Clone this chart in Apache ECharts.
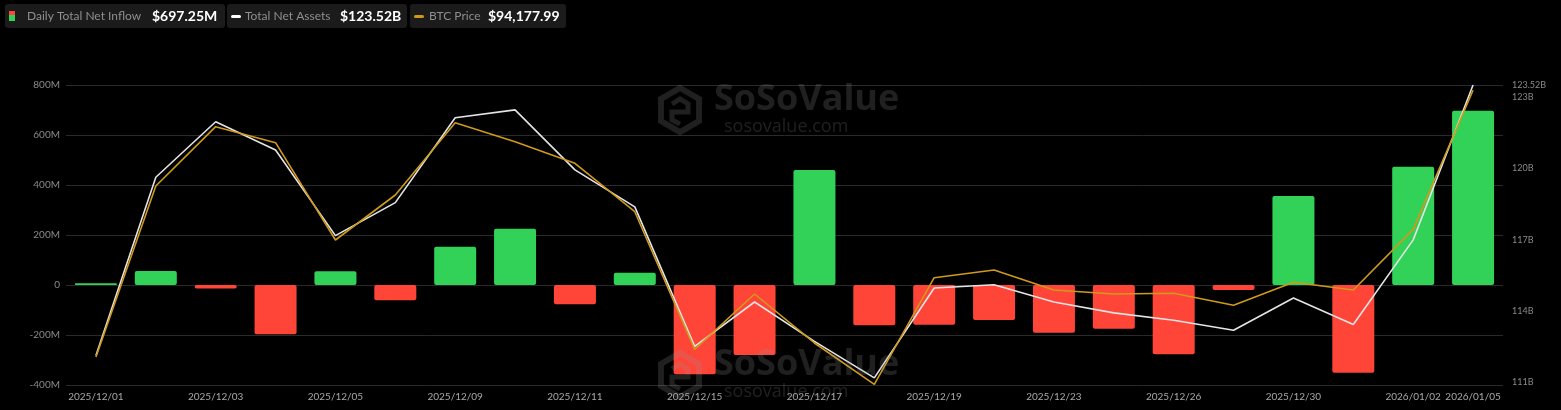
<!DOCTYPE html>
<html>
<head>
<meta charset="utf-8">
<script src="https://cdn.jsdelivr.net/npm/echarts@6/dist/echarts.min.js"></script>
<style>
html,body{margin:0;padding:0;background:#000;}
#chart{width:1561px;height:410px;}
</style>
</head>
<body>
<div id="chart"></div>
<script>
// ---- data ----
const categories = ['2025/12/01','2025/12/02','2025/12/03','2025/12/04','2025/12/05','2025/12/08','2025/12/09','2025/12/10','2025/12/11','2025/12/12','2025/12/15','2025/12/16','2025/12/17','2025/12/18','2025/12/19','2025/12/22','2025/12/23','2025/12/24','2025/12/26','2025/12/29','2025/12/30','2025/12/31','2026/01/02','2026/01/05'];
// Daily total net inflow, in millions USD
const netInflow = [7, 56, -14, -197, 55, -61, 153, 225, -77, 49, -357, -280, 460, -161, -159, -140, -191, -175, -277, -20, 356, -351, 473, 697.25];
// Total net assets, in billions USD
const totalNetAssets = [112.11, 119.63, 121.97, 120.78, 117.17, 118.56, 122.14, 122.47, 119.94, 118.38, 112.50, 114.37, 112.71, 111.17, 114.96, 115.10, 114.37, 113.91, 113.60, 113.18, 114.54, 113.42, 116.99, 123.52];
// BTC price, USD
const btcPrice = [85872, 91196, 93042, 92544, 89514, 90915, 93166, 92575, 91902, 90395, 86111, 87833, 86308, 85020, 88341, 88580, 87958, 87833, 87855, 87481, 88197, 87958, 89847, 94177.99];
// tick labels
const leftTicks = {min: -400, max: 800, interval: 200};
const rightTickValues = [111, 114, 117, 120, 123, 123.52];
const legendNames = ['Daily Total Net Inflow', 'Total Net Assets', 'BTC Price'];
const legendValues = ['$697.25M', '$123.52B', '$94,177.99'];

const GREEN = '#32d158', RED = '#ff4438', WHITE = '#e4e4e4', GOLD = '#cf9a1c';

const chart = echarts.init(document.getElementById('chart'));

function watermark(cx, cy) {
  const wm = 'rgba(150,150,150,0.21)';
  const hx = cx - 120, hy = cy + 2;
  const r = 22;
  const pts = [];
  for (let k = 0; k < 6; k++) {
    const a = Math.PI / 180 * (60 * k - 90);
    pts.push([hx + r * Math.cos(a), hy + r * Math.sin(a)]);
  }
  return [
    {type: 'polygon', shape: {points: pts}, style: {fill: 'none', stroke: wm, lineWidth: 6}, z: 100, silent: true},
    {type: 'polyline', shape: {points: [[hx - 8, hy - 6], [hx, hy - 11], [hx + 8, hy - 6], [hx + 8, hy + 2], [hx - 8, hy + 2], [hx - 8, hy + 10], [hx, hy + 14]]}, style: {fill: 'none', stroke: wm, lineWidth: 5}, z: 100, silent: true},
    {type: 'text', x: cx - 86, y: cy - 8, style: {text: 'SoSoValue', fill: wm, font: 'bold 36px "Open Sans"', textVerticalAlign: 'middle'}, z: 100, silent: true},
    {type: 'text', x: cx - 76, y: cy + 19, style: {text: 'sosovalue.com', fill: wm, font: '18px "Open Sans"', textVerticalAlign: 'middle'}, z: 100, silent: true}
  ];
}

function legendBox(x, w, iconEls, name, nameX, value, valueX) {
  return [
    {type: 'rect', shape: {x: x, y: 4, width: w, height: 24, r: 3}, style: {fill: '#1b1b1b'}, z: 50},
    ...iconEls,
    {type: 'text', x: nameX, y: 16.5, style: {text: name, fill: '#8e8e8e', font: '12px Lato', textVerticalAlign: 'middle'}, z: 51},
    {type: 'text', x: valueX, y: 16.5, style: {text: value, fill: '#ffffff', font: 'bold 14px Lato', textVerticalAlign: 'middle'}, z: 51}
  ];
}

const graphics = [
  ...legendBox(5, 220, [
    {type: 'rect', shape: {x: 9, y: 11, width: 6, height: 4}, style: {fill: RED}, z: 51},
    {type: 'rect', shape: {x: 9, y: 15, width: 6, height: 6}, style: {fill: GREEN}, z: 51}
  ], legendNames[0], 27, legendValues[0], 152),
  ...legendBox(227, 180, [
    {type: 'rect', shape: {x: 231, y: 15, width: 10, height: 3, r: 1.5}, style: {fill: '#ffffff'}, z: 51}
  ], legendNames[1], 245, legendValues[1], 340),
  ...legendBox(410, 156, [
    {type: 'rect', shape: {x: 414, y: 15, width: 10, height: 3, r: 1.5}, style: {fill: GOLD}, z: 51}
  ], legendNames[2], 429, legendValues[2], 488),
  ...watermark(800, 108),
  ...watermark(800, 373)
];

const option = {
  backgroundColor: '#000000',
  animation: false,
  grid: {left: 66, right: 58, top: 85, bottom: 25, containLabel: false},
  graphic: graphics,
  xAxis: {
    type: 'category',
    data: categories,
    axisLine: {show: false},
    axisTick: {show: false},
    axisLabel: {
      color: '#a8a8a8',
      fontSize: 10,
      fontFamily: 'Lato',
      margin: 7,
      interval: function (i) { return i % 2 === 0 || i === categories.length - 1; }
    }
  },
  yAxis: [
    {
      type: 'value',
      min: leftTicks.min, max: leftTicks.max, interval: leftTicks.interval,
      axisLine: {show: false}, axisTick: {show: false},
      splitLine: {lineStyle: {color: '#2a2a2a', width: 1}},
      axisLabel: {color: '#8a8a8a', fontSize: 10, fontFamily: 'Lato', margin: 6,
        formatter: v => v === 0 ? '0' : v + 'M'}
    },
    {
      type: 'value',
      position: 'right',
      min: 110.87, max: 123.52,
      axisLine: {show: false}, axisTick: {show: false},
      splitLine: {show: false},
      axisLabel: {color: '#8a8a8a', fontSize: 9, fontFamily: 'Lato', margin: 9,
        customValues: rightTickValues,
        formatter: v => v + 'B'}
    },
    {
      type: 'value',
      show: false,
      min: 85000, max: 94340,
      splitLine: {show: false}
    }
  ],
  series: [
    {
      name: legendNames[0],
      type: 'bar',
      yAxisIndex: 0,
      barWidth: 42,
      data: netInflow.map(v => ({value: v, itemStyle: {color: v >= 0 ? GREEN : RED, borderRadius: 2}}))
    },
    {
      name: legendNames[1],
      type: 'line',
      yAxisIndex: 1,
      data: totalNetAssets,
      showSymbol: false,
      lineStyle: {color: WHITE, width: 1.6},
      z: 3
    },
    {
      name: legendNames[2],
      type: 'line',
      yAxisIndex: 2,
      data: btcPrice,
      showSymbol: false,
      lineStyle: {color: GOLD, width: 1.6},
      z: 4
    }
  ]
};
chart.setOption(option);
</script>
</body>
</html>
